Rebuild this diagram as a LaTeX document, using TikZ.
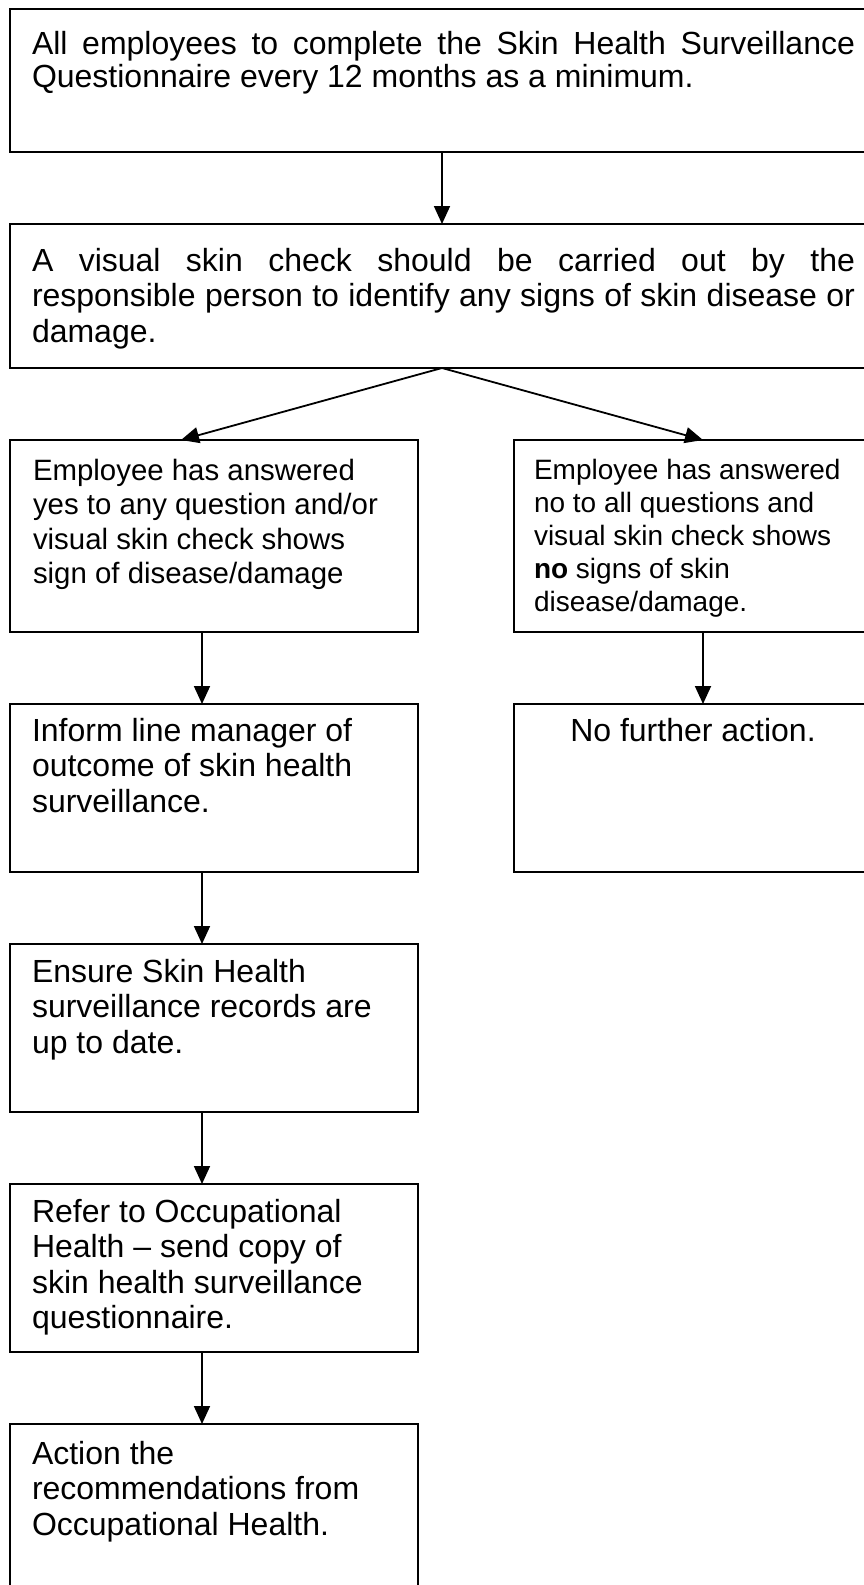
\documentclass[tikz,border=0pt]{standalone}
\usepackage{fontspec}
\setmainfont{Liberation Sans}
\usetikzlibrary{arrows.meta,calc}
\hyphenpenalty=10000
\exhyphenpenalty=10000
\tolerance=9999
\setlength{\parindent}{0pt}
\begin{document}
\begin{tikzpicture}[x=1pt,y=-1pt,
  box/.style={draw, line width=1.8pt, rectangle, inner sep=0pt, outer sep=0pt, anchor=north west},
  txt/.style={anchor=north west, inner sep=0pt, outer sep=0pt, align=left, font=\fontsize{32}{35.5}\selectfont},
  jtxt/.style={txt, align=justify, text width=823pt},
  smalltxt/.style={txt, font=\fontsize{29.4}{34.4}\selectfont},
  smallertxt/.style={txt, font=\fontsize{28}{33}\selectfont},
  arr/.style={line width=1.8pt, -{Triangle[length=18pt,width=16pt]}}
]
\useasboundingbox (0,0) rectangle (863,1585);

% boxes
\node[box, minimum width=864pt, minimum height=143pt] (b1) at (10,9) {};
\node[box, minimum width=864pt, minimum height=144pt] (b2) at (10,224) {};
\node[box, minimum width=408pt, minimum height=192pt] (b3l) at (10,440) {};
\node[box, minimum width=378pt, minimum height=192pt] (b3r) at (514,440) {};
\node[box, minimum width=408pt, minimum height=168pt] (b4l) at (10,704) {};
\node[box, minimum width=378pt, minimum height=168pt] (b4r) at (514,704) {};
\node[box, minimum width=408pt, minimum height=168pt] (b5) at (10,944) {};
\node[box, minimum width=408pt, minimum height=168pt] (b6) at (10,1184) {};
\node[box, minimum width=408pt, minimum height=175pt] (b7) at (10,1424) {};

% texts
\node[jtxt, font=\fontsize{32}{33}\selectfont] (t1) at ($(b1.north west)+(22,22)$) {All employees to complete the Skin Health Surveillance Questionnaire every 12 months as a minimum.};
\node[jtxt] (t2) at ($(b2.north west)+(22,24)$) {A visual skin check should be carried out by the\linebreak responsible person to identify any signs of skin disease or\linebreak damage.};
\node[smalltxt] (t3l) at ($(b3l.north west)+(23,19)$) {Employee has answered\\yes to any question and/or\\visual skin check shows\\sign of disease/damage};
\node[smallertxt] (t3r) at ($(b3r.north west)+(20,19)$) {Employee has answered\\no to all questions and\\visual skin check shows\\\textbf{no} signs of skin\\disease/damage.};
\node[txt] (t4l) at ($(b4l.north west)+(22,14)$) {Inform line manager of\\outcome of skin health\\surveillance.};
\node[txt, anchor=north] (t4r) at (693,718) {No further action.};
\node[txt] (t5) at ($(b5.north west)+(22,15)$) {Ensure Skin Health\\surveillance records are\\up to date.};
\node[txt] (t6) at ($(b6.north west)+(22,15)$) {Refer to Occupational\\Health – send copy of\\skin health surveillance\\questionnaire.};
\node[txt] (t7) at ($(b7.north west)+(22,17)$) {Action the\\recommendations from\\Occupational Health.};

% helper coordinates
\coordinate (colL) at (202,0);
\coordinate (tipL) at (181,0);

% connectors
\draw[arr] (b1.south) -- (b2.north);
\draw[arr] (b2.south) -- (b3l.north -| tipL);
\draw[arr] (b2.south) -- (b3r.north);
\draw[arr] (b3r.south) -- (b4r.north);
\draw[arr] (b3l.south -| colL) -- (b4l.north -| colL);
\draw[arr] (b4l.south -| colL) -- (b5.north -| colL);
\draw[arr] (b5.south -| colL) -- (b6.north -| colL);
\draw[arr] (b6.south -| colL) -- (b7.north -| colL);
\end{tikzpicture}
\end{document}
